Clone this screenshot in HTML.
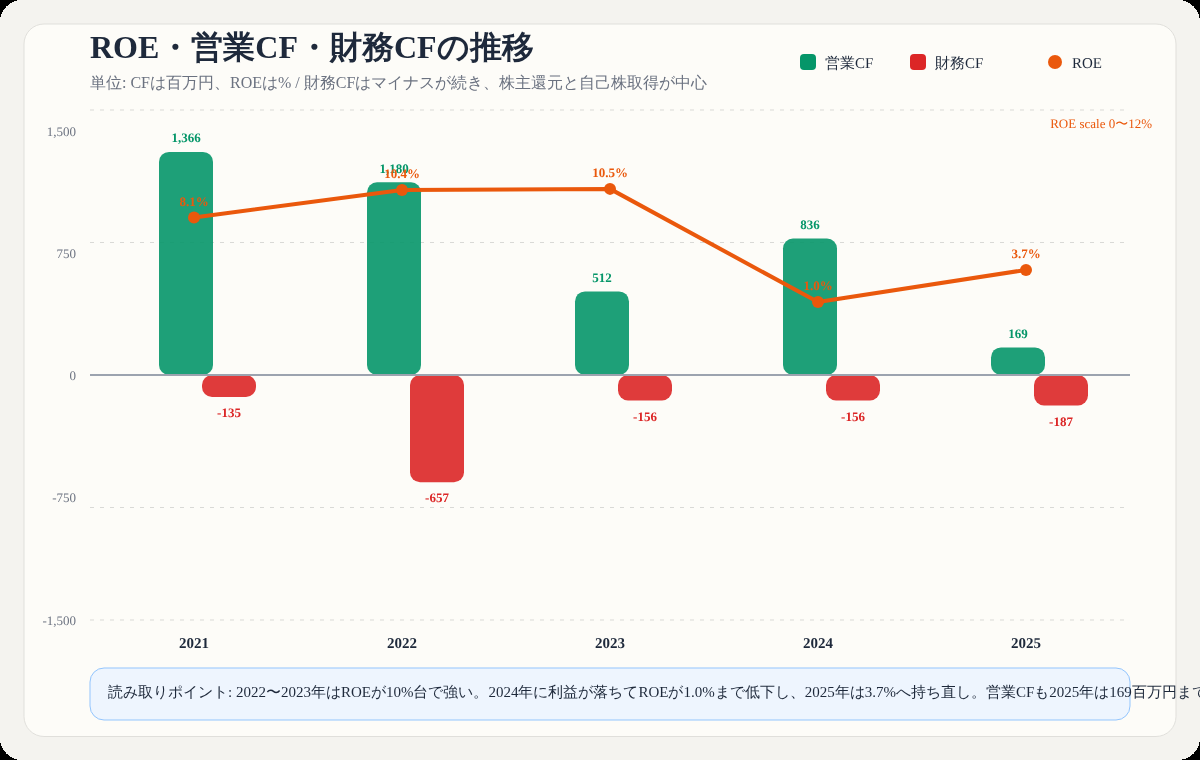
<!DOCTYPE html>
<html lang="ja">
<head>
<meta charset="utf-8">
<style>
html{margin:0;padding:0;background:#000;}
body{margin:0;padding:0;width:1200px;height:760px;position:relative;overflow:hidden;background:#f4f3ef;font-family:"Liberation Serif",serif;}
.title{position:absolute;left:90px;top:27px;font-size:32px;font-weight:bold;color:#1e293b;white-space:nowrap;line-height:40px;}
.sub{position:absolute;left:90px;top:72.5px;font-size:16px;color:#6b7280;white-space:nowrap;line-height:20px;}
.notetext{position:absolute;left:108px;top:681.5px;font-size:15px;color:#1e293b;white-space:nowrap;line-height:20px;}
svg{position:absolute;left:0;top:0;}
.title,.sub,.notetext,svg{will-change:transform;}
svg text{font-family:"Liberation Serif",serif;text-rendering:geometricPrecision;}
</style>
</head>
<body>
<svg width="1200" height="760" viewBox="0 0 1200 760">
  <rect x="24" y="24" width="1152" height="712.5" rx="20" fill="#fdfcf8" stroke="#e0dfdb" stroke-width="1"/>
  <rect x="90" y="668" width="1040" height="52" rx="14" fill="#eef5fe" stroke="#93c5fd" stroke-width="1"/>
  <!-- legend -->
  <rect x="800" y="54" width="16" height="16" rx="4" fill="#059669"/>
  <text x="825" y="68" font-size="15" fill="#1e293b">営業CF</text>
  <rect x="910" y="54" width="16" height="16" rx="4" fill="#dc2626"/>
  <text x="935" y="68" font-size="15" fill="#1e293b">財務CF</text>
  <circle cx="1055" cy="62" r="7" fill="#ea580c"/>
  <text x="1072" y="68" font-size="15" fill="#1e293b">ROE</text>

  <!-- grid -->
  <g stroke="#d9d9d6" stroke-width="1" stroke-dasharray="4 6">
    <line x1="90" y1="110" x2="1130" y2="110"/>
    <line x1="90" y1="242.5" x2="1130" y2="242.5"/>
    <line x1="90" y1="507.5" x2="1130" y2="507.5"/>
    <line x1="90" y1="620" x2="1130" y2="620"/>
  </g>
  <!-- y labels -->
  <g font-size="13" fill="#6b7280" text-anchor="end" transform="translate(-1,0)">
    <text x="77" y="135.5">1,500</text>
    <text x="77" y="257.75">750</text>
    <text x="77" y="380">0</text>
    <text x="77" y="502.25">-750</text>
    <text x="77" y="624.5">-1,500</text>
  </g>
  <text x="1152" y="128" font-size="13" fill="#ea580c" text-anchor="end">ROE scale 0〜12%</text>

  <!-- bars -->
  <g fill="#059669" fill-opacity="0.9">
    <rect x="159" y="151.9" width="54" height="223.1" rx="10"/>
    <rect x="367" y="182.3" width="54" height="192.7" rx="10"/>
    <rect x="575" y="291.4" width="54" height="83.6" rx="10"/>
    <rect x="783" y="238.5" width="54" height="136.5" rx="10"/>
    <rect x="991" y="347.4" width="54" height="27.6" rx="10"/>
  </g>
  <g fill="#dc2626" fill-opacity="0.9">
    <rect x="202" y="375" width="54" height="22.05" rx="10"/>
    <rect x="410" y="375" width="54" height="107.3" rx="10"/>
    <rect x="618" y="375" width="54" height="25.5" rx="10"/>
    <rect x="826" y="375" width="54" height="25.5" rx="10"/>
    <rect x="1034" y="375" width="54" height="30.5" rx="10"/>
  </g>
  <!-- zero line -->
  <line x1="90" y1="375" x2="1130" y2="375" stroke="#9ca3af" stroke-width="2"/>

  <!-- bar labels -->
  <g font-size="13" font-weight="bold" fill="#059669" text-anchor="middle">
    <text x="186" y="142.4">1,366</text>
    <text x="394" y="172.8">1,180</text>
    <text x="602" y="281.9">512</text>
    <text x="810" y="229">836</text>
    <text x="1018" y="337.9">169</text>
  </g>
  <g font-size="13" font-weight="bold" fill="#dc2626" text-anchor="middle">
    <text x="229" y="417.05">-135</text>
    <text x="437" y="502.3">-657</text>
    <text x="645" y="420.5">-156</text>
    <text x="853" y="420.5">-156</text>
    <text x="1061" y="425.5">-187</text>
  </g>

  <!-- ROE line -->
  <polyline points="194,217.48 402,190.07 610,188.88 818,302.08 1026,269.91" fill="none" stroke="#ea580c" stroke-width="4" stroke-linejoin="round" stroke-linecap="round"/>
  <g fill="#ea580c">
    <circle cx="194" cy="217.48" r="6"/>
    <circle cx="402" cy="190.07" r="6"/>
    <circle cx="610" cy="188.88" r="6"/>
    <circle cx="818" cy="302.08" r="6"/>
    <circle cx="1026" cy="269.91" r="6"/>
  </g>
  <g font-size="13" font-weight="bold" fill="#ea580c" text-anchor="middle">
    <text x="194" y="205.88">8.1%</text>
    <text x="402" y="178.47">10.4%</text>
    <text x="610" y="177.28">10.5%</text>
    <text x="818" y="290.48">1.0%</text>
    <text x="1026" y="258.31">3.7%</text>
  </g>

  <!-- x labels -->
  <g font-size="15" font-weight="bold" fill="#1e293b" text-anchor="middle">
    <text x="194" y="648">2021</text>
    <text x="402" y="648">2022</text>
    <text x="610" y="648">2023</text>
    <text x="818" y="648">2024</text>
    <text x="1026" y="648">2025</text>
  </g>
</svg>
<div class="title">ROE・営業CF・財務CFの推移</div>
<div class="sub">単位: CFは百万円、ROEは% / 財務CFはマイナスが続き、株主還元と自己株取得が中心</div>
<div class="notetext">読み取りポイント: 2022〜2023年はROEが10%台で強い。2024年に利益が落ちてROEが1.0%まで低下し、2025年は3.7%へ持ち直し。営業CFも2025年は169百万円まで減少しており、資本効率の改善が課題。</div>
<svg class="corners" width="1200" height="760" viewBox="0 0 1200 760" shape-rendering="crispEdges">
  <path fill="#000" d="M0,0 H22 A22,22 0 0 0 0,22 Z"/>
  <path fill="#000" d="M1200,0 V22 A22,22 0 0 0 1178,0 Z"/>
  <path fill="#000" d="M0,760 V738 A22,22 0 0 0 22,760 Z"/>
  <path fill="#000" d="M1200,760 H1178 A22,22 0 0 0 1200,738 Z"/>
</svg>
</body>
</html>
